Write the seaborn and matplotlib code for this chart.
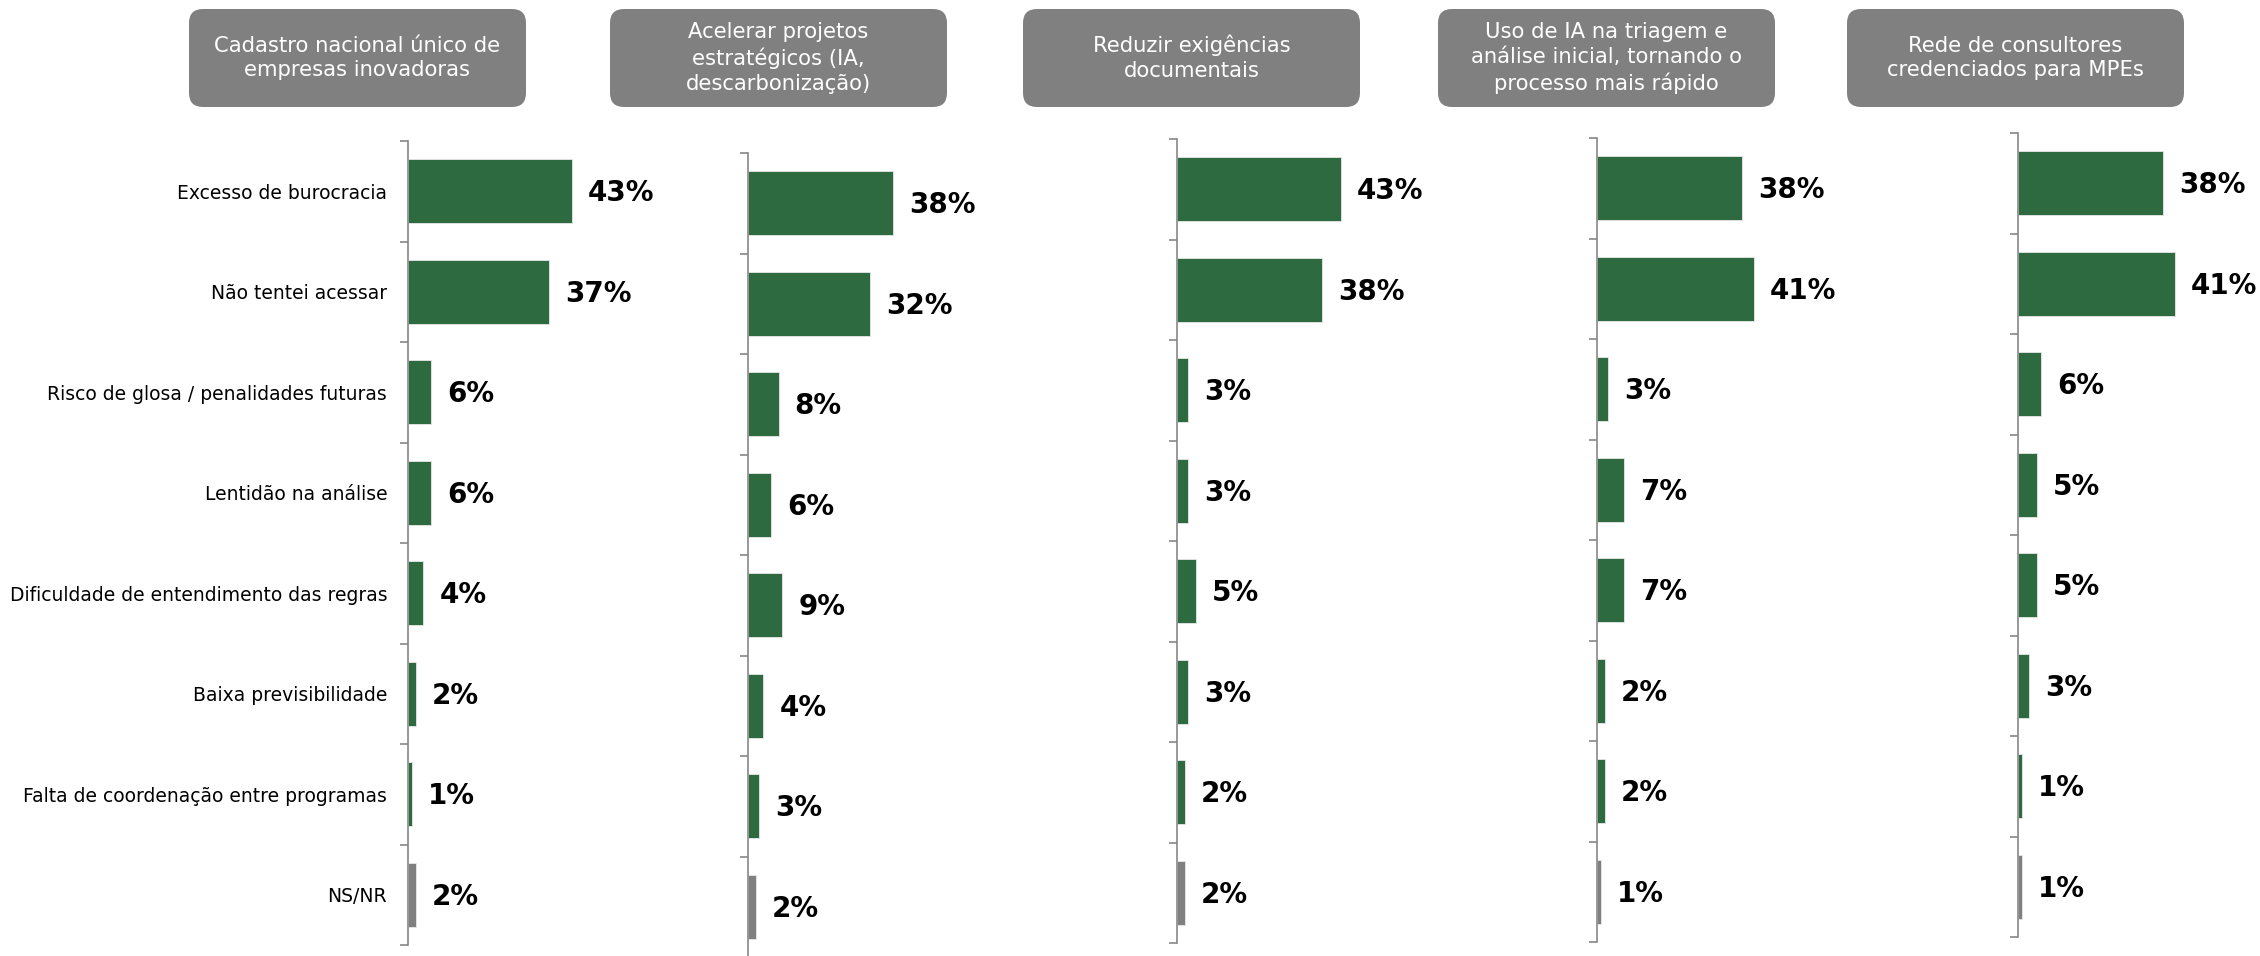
import numpy as np
import pandas as pd
import matplotlib
matplotlib.use("Agg")
import matplotlib.pyplot as plt
from matplotlib.patches import FancyBboxPatch
import seaborn as sns

# Data
categories = [
    "Excesso de burocracia",
    "Não tentei acessar",
    "Risco de glosa / penalidades futuras",
    "Lentidão na análise",
    "Dificuldade de entendimento das regras",
    "Baixa previsibilidade",
    "Falta de coordenação entre programas",
    "NS/NR",
]
panel_titles = [
    "Cadastro nacional único de\nempresas inovadoras",
    "Acelerar projetos\nestratégicos (IA,\ndescarbonização)",
    "Reduzir exigências\ndocumentais",
    "Uso de IA na triagem e\nanálise inicial, tornando o\nprocesso mais rápido",
    "Rede de consultores\ncredenciados para MPEs",
]
cadastro = [43, 37, 6, 6, 4, 2, 1, 2]
acelerar = [38, 32, 8, 6, 9, 4, 3, 2]
reduzir = [43, 38, 3, 3, 5, 3, 2, 2]
uso_ia = [38, 41, 3, 7, 7, 2, 2, 1]
consultores = [38, 41, 6, 5, 5, 3, 1, 1]
series = [cadastro, acelerar, reduzir, uso_ia, consultores]

GREEN = "#2e6a40"
GREY = "#808080"
AXIS_GREY = "#878787"

sns.set_style("white")
plt.rcParams["font.family"] = ["DejaVu Sans"]

W, H = 2260, 956
fig = plt.figure(figsize=(W / 100, H / 100), dpi=100)

ax_left = [408, 748, 1177, 1597, 2018]
ax_top = [141, 153, 139, 138, 133]
ax_h = 804
ax_w = 240
px_per_pct = 3.82
box_left = [189, 610, 1023, 1438, 1847]
box_w, box_h, box_top = 337, 98, 9

palette = {c: (GREY if c == "NS/NR" else GREEN) for c in categories}

for i, vals in enumerate(series):
    df = pd.DataFrame({"categoria": categories, "pct": vals})
    ax = fig.add_axes([ax_left[i] / W, (H - ax_top[i] - ax_h) / H, ax_w / W, ax_h / H])
    sns.barplot(data=df, y="categoria", x="pct", hue="categoria", palette=palette,
                legend=False, orient="h", width=0.64, saturation=1, ax=ax,
                edgecolor="#e8e8e8", linewidth=0.6)
    ax.set_xlim(0, ax_w / px_per_pct)
    ax.set_ylim(len(categories) - 0.5, -0.5)
    for p, v in zip(ax.patches, vals):
        ax.annotate(f"{v}%", (p.get_width(), p.get_y() + p.get_height() / 2),
                    xytext=(11.5, -1.5), textcoords="offset points",
                    ha="left", va="center", fontsize=20, fontweight="bold", color="black")

    sns.despine(ax=ax, top=True, right=True, bottom=True, left=False)
    ax.spines["left"].set_color(AXIS_GREY)
    ax.spines["left"].set_linewidth(1.2)
    ax.set_xticks([])
    ax.set_xlabel("")
    ax.set_ylabel("")
    ax.set_yticks(np.arange(len(categories)))
    if i == 0:
        ax.set_yticklabels(categories, fontsize=13.5, color="black")
    else:
        ax.set_yticklabels([])
    ax.tick_params(axis="y", which="major", length=0, pad=15)
    ax.set_yticks(np.arange(-0.5, len(categories), 1), minor=True)
    ax.tick_params(axis="y", which="minor", length=6, width=1.2, color=AXIS_GREY, left=True)
    ax.patch.set_alpha(0)

    # title box above each panel
    tax = fig.add_axes([box_left[i] / W, (H - box_top - box_h) / H, box_w / W, box_h / H])
    tax.set_xlim(0, box_w)
    tax.set_ylim(0, box_h)
    tax.axis("off")
    tax.add_patch(FancyBboxPatch((0, 0), box_w, box_h,
                                 boxstyle="round,pad=0,rounding_size=14",
                                 facecolor=GREY, edgecolor="none"))
    tax.text(box_w / 2, box_h / 2, panel_titles[i], ha="center", va="center",
             color="white", fontsize=15.2, linespacing=1.3)

fig.savefig("out.png", dpi=100)
